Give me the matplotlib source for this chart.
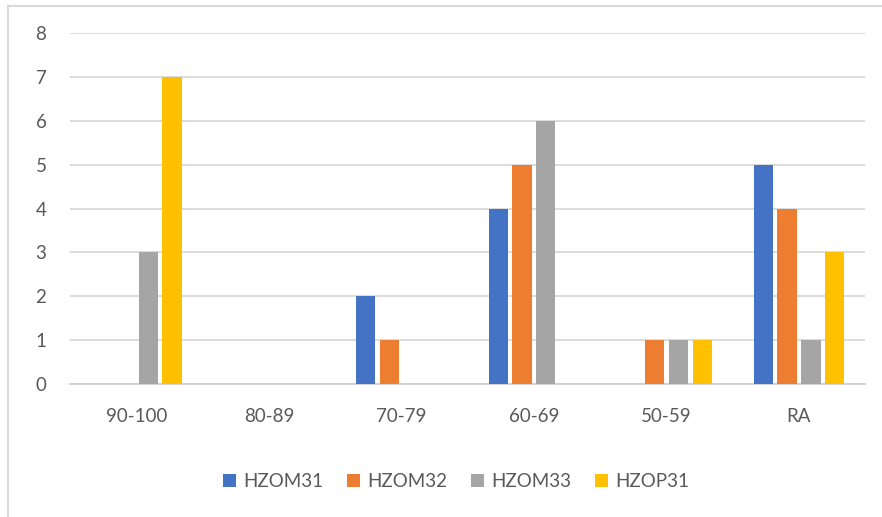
import numpy as np
import matplotlib
matplotlib.use('Agg')
import matplotlib.pyplot as plt
from matplotlib.lines import Line2D

categories = ['90-100', '80-89', '70-79', '60-69', '50-59', 'RA']
series_names = ['HZOM31', 'HZOM32', 'HZOM33', 'HZOP31']
hzom31 = [0, 0, 2, 4, 0, 5]
hzom32 = [0, 0, 1, 5, 1, 4]
hzom33 = [3, 0, 0, 6, 1, 1]
hzop31 = [7, 0, 0, 0, 1, 3]
colors = ['#4472C4', '#ED7D31', '#A5A5A5', '#FFC000']

plt.rcParams['font.family'] = ['Lato', 'DejaVu Sans']

fig = plt.figure(figsize=(8.82, 5.17), dpi=100)
ax = fig.add_axes([0.0794, 0.257, 0.9016, 0.679])

x = np.arange(len(categories))
step = 0.18
width = 0.145
for i, (vals, name) in enumerate(zip([hzom31, hzom32, hzom33, hzop31], series_names)):
    ax.bar(x + (i - 1.5) * step, vals, width=width, color=colors[i], label=name, zorder=3)

ax.set_xlim(-0.5, len(categories) - 0.5)
ax.set_ylim(0, 8)
ax.set_yticks(range(0, 9))
ax.set_xticks(x)
ax.set_xticklabels(categories)
ax.yaxis.grid(True, color='#d9d9d9', linewidth=1.3, zorder=0)
for s in ['top', 'right', 'left']:
    ax.spines[s].set_visible(False)
ax.spines['bottom'].set_color('#d0d0d0')
ax.spines['bottom'].set_linewidth(1.3)
ax.tick_params(axis='both', length=0, labelsize=13.5, labelcolor='#595959')
ax.tick_params(axis='x', pad=17)
ax.tick_params(axis='y', pad=17)

fig.legend(loc='center', bbox_to_anchor=(0.517, 0.068), ncol=4, frameon=False,
           fontsize=13.5, labelcolor='#595959', handlelength=0.7, handleheight=0.7,
           handletextpad=0.4, columnspacing=1.25)

# chart border (partially cropped in the original)
fig.add_artist(Line2D([0.009, 0.009], [0, 0.988], color='#d9d9d9', linewidth=1.5))
fig.add_artist(Line2D([0.009, 1.0], [0.988, 0.988], color='#d9d9d9', linewidth=1.5))

fig.savefig('out.png', dpi=100)
